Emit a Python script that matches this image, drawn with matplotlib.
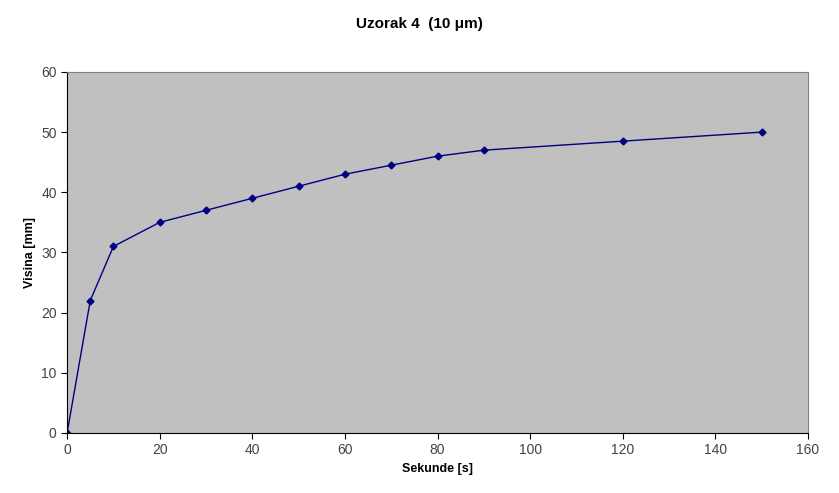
import matplotlib.pyplot as plt

plt.rcParams['font.family'] = ['Liberation Sans', 'DejaVu Sans']

seconds = [0, 5, 10, 20, 30, 40, 50, 60, 70, 80, 90, 120, 150]
height = [0, 22, 31, 35, 37, 39, 41, 43, 44.5, 46, 47, 48.5, 50]

fig = plt.figure(figsize=(8.39, 4.93), dpi=100)
ax = fig.add_axes([0.080, 0.122, 0.883, 0.732])
ax.set_facecolor('#c0c0c0')

ax.plot(seconds, height, color='#000080', linewidth=1.0,
        marker='D', markersize=3.5)

ax.set_xlim(0, 160)
ax.set_ylim(0, 60)
ax.set_xticks(range(0, 161, 20))
ax.set_yticks(range(0, 61, 10))
ax.tick_params(labelsize=10, labelcolor='#444444', length=4, direction='out')

for side in ['left', 'bottom']:
    ax.spines[side].set_color('black')
for side in ['top', 'right']:
    ax.spines[side].set_color('#808080')

ax.set_xlabel('Sekunde [s]', fontsize=9, fontweight='bold')
ax.set_ylabel('Visina [mm]', fontsize=9, fontweight='bold')
fig.suptitle('Uzorak 4  (10 μm)', fontsize=11, fontweight='bold', y=0.965)

fig.savefig('out.png', dpi=100)
